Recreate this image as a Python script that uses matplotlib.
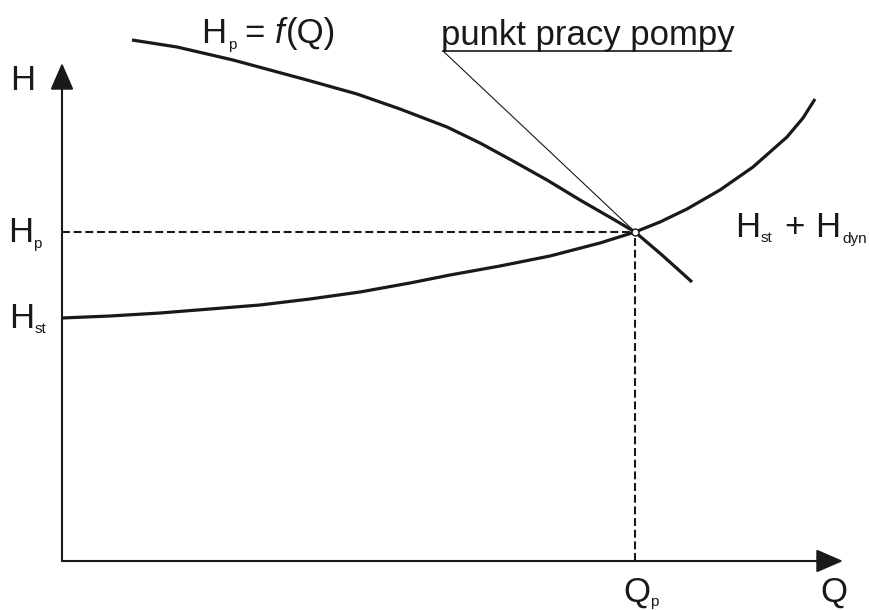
import matplotlib
matplotlib.use('Agg')
import matplotlib.pyplot as plt

plt.rcParams['font.family'] = ['Liberation Sans', 'DejaVu Sans']

# pump characteristic Hp = f(Q) (arbitrary units)
pump_q = [70, 115, 171, 208, 245, 295, 338, 385, 418, 451, 485, 518, 551, 573, 600, 630]
pump_h = [521, 514, 501, 491, 481, 467, 452, 434, 418, 400, 381, 361, 342, 329, 306, 279]

# system curve Hst + Hdyn
sys_q = [0, 48, 98, 148, 198, 248, 298, 348, 388, 438, 488, 538, 573, 598, 625, 658, 691, 725, 741, 753]
sys_h = [243, 245, 248, 252, 256, 262, 269, 278, 286, 295, 305, 318, 329, 339, 352, 371, 394, 424, 443, 462]

# operating point
q_op = 573
h_op = 329

# axis extent
q_max = 781
h_max = 498

ink = '#1a1819'
big = 25
small = 11

fig = plt.figure(figsize=(8.69, 6.10), dpi=100)
ax = fig.add_axes([0, 0, 1, 1])
ax.set_xlim(-62, 807)
ax.set_ylim(-49, 561)
ax.axis('off')

# axes with arrow heads
arrow = dict(arrowstyle='-|>,head_length=0.83,head_width=0.36', mutation_scale=20,
             lw=1.5, color=ink, shrinkA=0, shrinkB=0)
ax.annotate('', xy=(0, h_max), xytext=(0, 0), arrowprops=arrow)
ax.annotate('', xy=(q_max, 0), xytext=(0, 0), arrowprops=arrow)

# curves
ax.plot(pump_q, pump_h, color=ink, lw=2.3, solid_capstyle='butt', solid_joinstyle='round')
ax.plot(sys_q, sys_h, color=ink, lw=2.3, solid_capstyle='butt', solid_joinstyle='round')

# dashed guides to the operating point
dash = (0, (3.8, 1.8))
ax.plot([0, q_op], [h_op, h_op], color=ink, lw=1.5, linestyle=dash)
ax.plot([q_op, q_op], [0, h_op], color=ink, lw=1.5, linestyle=dash)
ax.plot([q_op], [h_op], 'o', ms=5, mfc='white', mec=ink, mew=1.0, zorder=5)

# leader to the label
ax.plot([381, 669], [510, 510], color=ink, lw=1.2)
ax.plot([381, q_op - 2], [510, h_op + 2], color=ink, lw=0.8)

def txt(x, y, s, size=big, **kw):
    ax.text(x, y, s, fontsize=size, color=ink, va='baseline', ha='left', **kw)

txt(-52, 471, 'H')

txt(139, 518, 'H')
txt(166, 512, 'p', small)
txt(182, 518, '=')
txt(213, 518, 'f', style='italic')
txt(224, 518, '(Q)')

txt(379, 516, 'punkt pracy pompy')

txt(-54, 319, 'H')
txt(-29, 313, 'p', small)

txt(-53, 233, 'H')
txt(-27, 228, 'st', small)

txt(673, 324, 'H')
txt(699, 319, 'st', small)
txt(722, 324, '+')
txt(753, 324, 'H')
txt(780, 318, 'dyn', small)

txt(561, -41, 'Q')
txt(588, -45, 'p', small)

txt(758, -41, 'Q')

fig.savefig('out.png', dpi=100)
